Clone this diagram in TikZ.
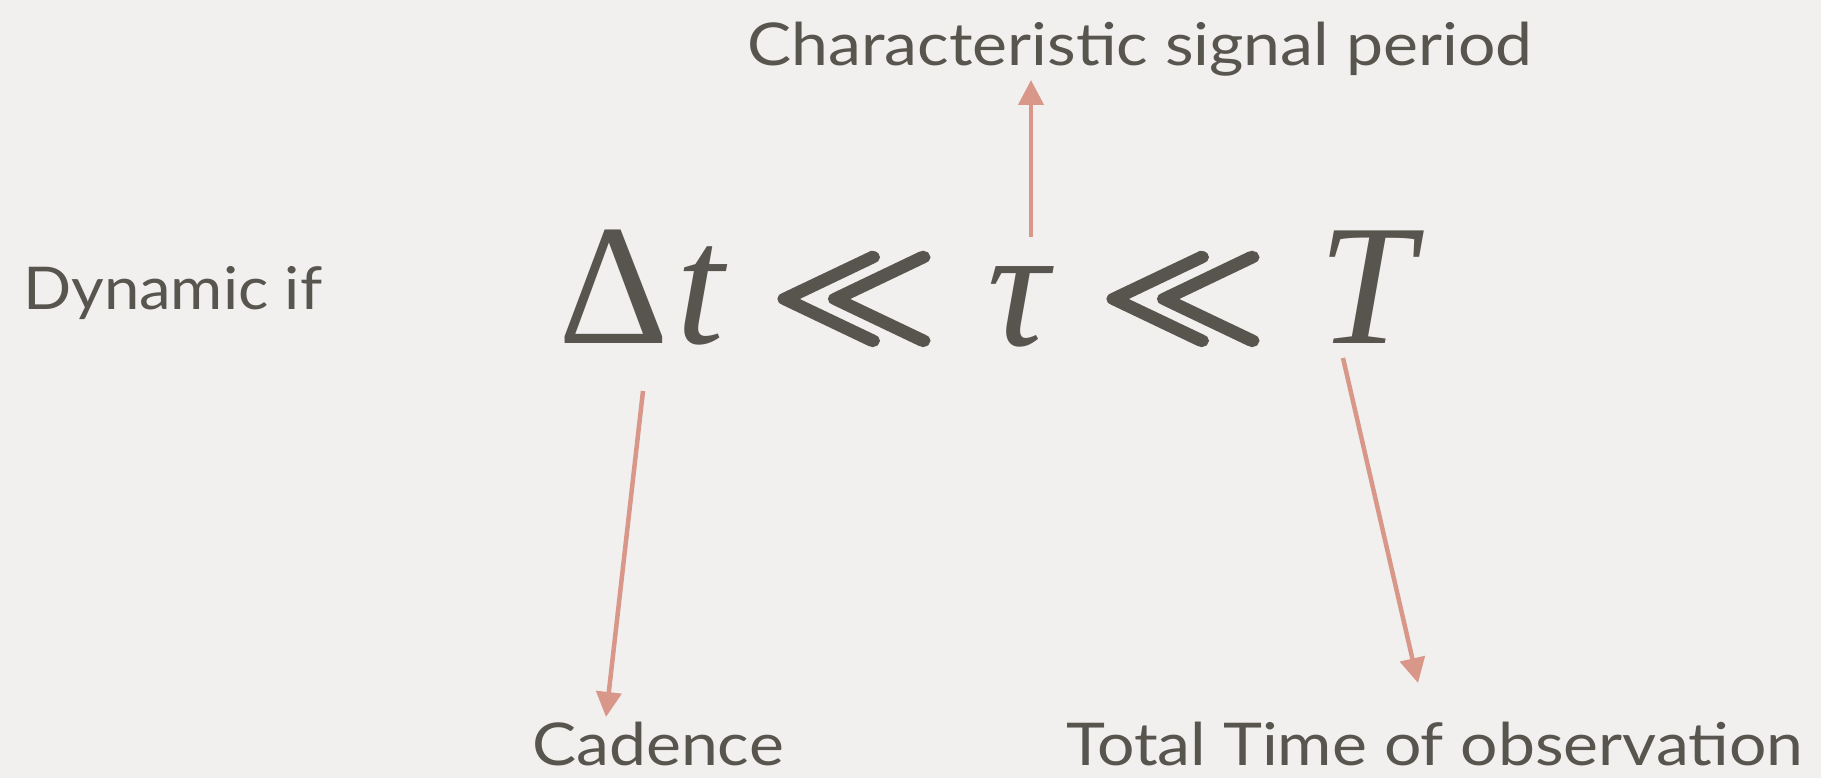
\documentclass[tikz,border=0pt]{standalone}
\usepackage{fontspec}
\setmainfont[FakeStretch=1.12]{Lato}
\newfontfamily\dynfont[FakeStretch=1.075]{Lato}
\newfontfamily\mathserif{Liberation Serif}
\usetikzlibrary{arrows.meta}
\definecolor{paper}{HTML}{F1F0EE}
\definecolor{ink}{HTML}{58554F}
\definecolor{salmon}{HTML}{D9978A}
\newcommand{\heavyll}{\scalebox{14.4}[12.4]{\special{pdf:literal direct 2 Tr 0.4 w}\boldmath$\ll$\special{pdf:literal direct 0 Tr}}}
\tikzset{
  lbl/.style={inner sep=0pt, anchor=base west, text=ink, font=\fontsize{59}{66}\selectfont},
  sym/.style={inner sep=0pt, anchor=base, text=ink, font=\mathserif\fontsize{172}{180}\selectfont},
  llsym/.style={inner sep=0pt, anchor=center, text=ink, font=\normalsize},
  pointer/.style={draw=salmon, line width=4.5pt, -{Triangle[length=25pt,width=25pt]}}
}
\begin{document}
\begin{tikzpicture}[x=1pt,y=-1pt]
\fill[paper] (0,0) rectangle (1821,778);
\useasboundingbox (0,0) rectangle (1821,778);
% labels
\node[lbl] (char) at (747,66) {Characteristic signal period};
\node[lbl, font=\dynfont\fontsize{59}{66}\selectfont] (dyn) at (23,309) {Dynamic if};
\node[lbl] (cad) at (532,765) {Cadence};
\node[lbl] (tot) at (1066,765) {Total Time of observation};
% formula
\node[sym] (dt) at (643,343) {Δ\kern8pt\textit{t}};
\node[llsym] (ll1) at (854,299) {\heavyll};
\node[sym] (tau) at (1021,345) {\textit{τ}};
\node[llsym] (ll2) at (1183,299) {\heavyll};
\node[sym] (T) at (1371,343) {\textit{T}};
% arrow ends
\coordinate (tauS) at (1031,237);
\coordinate (tauE) at (1031,80);
\coordinate (dtS) at (643,391);
\coordinate (dtE) at (606,717);
\coordinate (TS) at (1343,358);
\coordinate (TE) at (1418,683);
\draw[pointer] (tauS) -- (tauE);
\draw[pointer] (dtS) -- (dtE);
\draw[pointer] (TS) -- (TE);
\end{tikzpicture}
\end{document}
